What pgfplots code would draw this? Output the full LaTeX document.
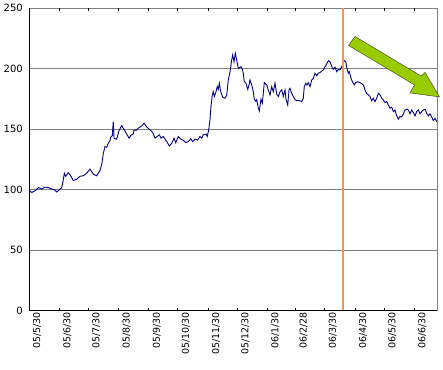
\documentclass[border=0pt]{standalone}
\usepackage{pgfplots}
\pgfplotsset{compat=1.18}
\usepackage{fontspec}
\setmainfont{DejaVu Sans}
\definecolor{gridgray}{RGB}{128,128,128}
\definecolor{navyline}{RGB}{0,0,128}
\definecolor{markorange}{RGB}{255,145,85}
\definecolor{arrowfill}{RGB}{153,204,0}
\definecolor{arrowedge}{RGB}{70,80,40}
\begin{document}
\begin{tikzpicture}
\useasboundingbox (0,0) rectangle (443bp,370bp);
\begin{axis}[
  at={(29bp,59.5bp)}, anchor=south west,
  scale only axis, width=408.7bp, height=302.2bp,
  xmin=0, xmax=420, ymin=0, ymax=250,
  clip=false,
  axis line style={draw=none},
  ytick={0,50,100,150,200,250},
  ymajorgrids,
  grid style={draw=gridgray, line width=0.9bp},
  xtick={0,31,61,92,123,153,184,214,245,274,304,335,365,396},
  xticklabels={05/5/30,05/6/30,05/7/30,05/8/30,05/9/30,05/10/30,05/11/30,05/12/30,06/1/30,06/2/28,06/3/30,06/4/30,06/5/30,06/6/30},
  tick align=inside,
  xtick style={draw=black, line width=0.8bp},
  major tick length=2.5bp,
  ytick style={draw=none},
  /pgf/number format/assume math mode=true,
  xticklabel style={rotate=90, anchor=east, font=\fontsize{9.5bp}{11bp}\selectfont, inner sep=0pt, yshift=-8bp, xshift=-1.5bp},
  yticklabel style={font=\fontsize{10bp}{11bp}\selectfont, inner sep=0pt, xshift=-6bp},
]
\addplot[color=navyline, line width=0.9bp, mark=none] coordinates {
(0,99.6) (2.8,97.6) (6.2,99) (9.6,101.7) (13.1,100.5) (16.4,102) (19.8,101.7) (23.3,100.5) (26.7,99.6) (28.5,98)
(31.9,100.5) (33.6,101.5) (35.2,108) (36.3,113.6) (37.7,110.9) (40.4,114) (43.2,111) (45.5,107.5) (49.0,108.6) (52.4,111)
(55.8,111.5) (59.3,113.6) (62.7,117) (66.1,112.8) (69.6,111.4) (73.0,116) (74.7,120.5) (76.4,130) (78.1,135.6) (79.9,135)
(81.5,138.4) (83.2,140.6) (84.3,143.9) (85.6,144.4) (86.6,156.3) (87.4,142.5) (90.1,141.7) (92.5,148.8) (95.3,153) (97.9,149.4)
(100.4,146) (102.8,142.5) (104.8,145) (107.2,146) (107.9,149.4) (110.0,149) (112.3,150.8) (115.8,152.6) (118.2,155) (121.0,151.8)
(124.4,149.4) (127.1,147.4) (129.5,142.6) (131.9,144) (133.9,145.3) (135.7,142.6) (138.0,144) (139.8,141.8) (141.5,139.8) (144.2,136.2)
(146.7,138.3) (149.0,142.6) (150.8,138.8) (153.4,144) (155.9,141.8) (158.6,140.8) (161.3,138.8) (163.7,139.8) (166.2,142) (168.2,139.8)
(170.6,141.8) (173.4,141) (175.7,144) (177.5,142.6) (179.1,145.3) (181.9,146) (183.2,144) (184.7,149.4) (186.0,157.7) (187.0,168.7)
(188.4,178.3) (189.4,181) (190.4,177) (192.2,181) (193.5,185.2) (194.5,183) (195.6,188) (197.0,181) (199.1,176.4) (201.4,175.6)
(203.2,178.3) (204.8,190.7) (206.6,197.6) (208.3,207.3) (209.3,211.4) (210.7,205.7) (212.0,212.8) (213.5,207) (215.1,200.3) (217.9,201.7)
(219.2,199.5) (220.2,196.3) (221.3,189.3) (223.0,188) (224.8,183) (226.1,186.5) (227.1,190.7) (228.9,186.5) (230.5,181) (231.5,174.8)
(233.0,173) (234.0,174.4) (235.7,167.4) (236.7,165.1) (238.4,174.8) (239.8,171.5) (241.8,188.5) (244.3,186.5) (245.9,182.5) (247.7,178.3)
(249.4,185.2) (251.1,181) (252.8,188) (254.6,179) (256.2,177) (258.0,181) (259.7,182.5) (261.3,177) (263.1,182.5) (264.1,174.8)
(265.9,170) (267.2,182.5) (268.2,183.8) (270.0,179.7) (271.6,177) (273.4,174.4) (275.1,173.6) (276.8,173.8) (280.3,173) (281.9,175.6)
(282.9,185.2) (284.4,188) (285.7,186.5) (287.0,188.5) (288.8,185.2) (290.5,190.7) (292.2,192.1) (293.9,196.3) (295.7,194.2) (297.3,196.3)
(299.1,196.9) (302.5,199) (304.2,201.7) (306.0,204) (307.6,206.7) (309.3,205.8) (311.1,202) (312.7,199.5) (314.5,201.3) (316.2,197.6)
(317.9,199.5) (319.6,199) (321.4,201.7) (323.4,205.8) (324.0,206.7) (325.5,206) (326.8,200) (328.1,196.3) (329.2,197.6) (330.9,192.1)
(332.3,189.3) (334.3,186.6) (335.7,188.5) (337.8,189.3) (339.4,188.8) (341.2,188) (343.6,186.6) (345.3,182.5) (347.1,179.2) (348.7,178.5)
(350.4,177) (352.2,173.6) (353.8,175.6) (355.6,172.8) (357.3,175.6) (359.0,179.7) (360.7,178.5) (362.5,175.6) (364.1,174.2) (365.9,172)
(367.6,172.8) (369.3,170) (371.0,167.4) (372.7,168.2) (374.4,164.6) (376.1,165.9) (377.9,161) (379.5,158.3) (381.3,160.5) (383.0,160)
(384.7,162.7) (386.4,165.9) (388.2,166.5) (389.8,165.9) (391.6,162.7) (393.3,165.9) (395.0,163.7) (396.7,161) (398.4,164.6) (400.1,165.9)
(401.8,162.7) (403.6,164.6) (405.2,165.9) (407.0,166.5) (408.7,163.2) (410.4,161) (412.1,162.7) (413.9,160) (415.5,157.1) (417.3,159)
(419.0,156.3) (420.0,155.5)
};
\addplot[color=markorange, line width=1.8bp, mark=none, forget plot] coordinates {(323,0.8) (323,250)};
\draw[black, line width=1bp] (rel axis cs:0,0) -- (rel axis cs:0,1);
\draw[black, line width=1bp] (rel axis cs:0,0) -- (rel axis cs:1,0);
\draw[gridgray, line width=0.9bp] (rel axis cs:1,0) -- (rel axis cs:1,1);
\filldraw[fill=arrowfill, draw=arrowedge, line width=0.5bp]
  (axis cs:335.0,226.7) -- (axis cs:402.9,194.0) -- (axis cs:407.0,196.9) -- (axis cs:421.9,176.7)
  -- (axis cs:391.6,180.0) -- (axis cs:396.2,186.6) -- (axis cs:328.4,219.3) -- cycle;
\end{axis}
\end{tikzpicture}
\end{document}
